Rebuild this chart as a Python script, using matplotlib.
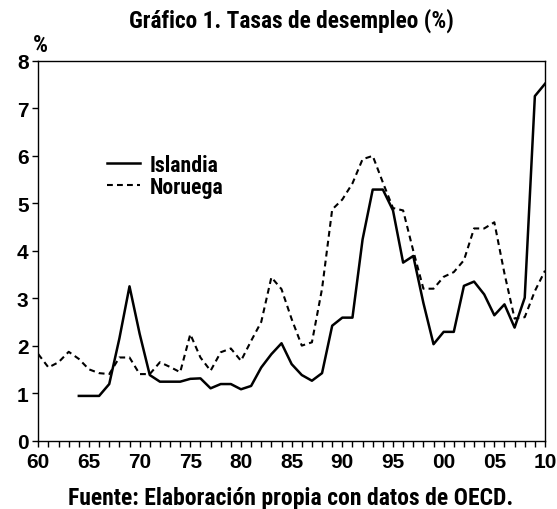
import matplotlib
matplotlib.use("Agg")
import matplotlib.pyplot as plt
from matplotlib import font_manager
from matplotlib.ticker import MultipleLocator, FuncFormatter

years_iceland = list(range(1964, 2011))
iceland = [0.94, 0.94, 0.94, 1.19, 2.15, 3.25, 2.25, 1.38, 1.24, 1.24,
           1.24, 1.30, 1.31, 1.10, 1.19, 1.19, 1.08, 1.15, 1.54, 1.82,
           2.05, 1.61, 1.38, 1.26, 1.42, 2.42, 2.59, 2.59, 4.24, 5.29,
           5.29, 4.85, 3.75, 3.89, 2.90, 2.03, 2.29, 2.29, 3.26, 3.35,
           3.08, 2.64, 2.87, 2.38, 3.01, 7.26, 7.52]

years_norway = list(range(1960, 2011))
norway = [1.82, 1.54, 1.65, 1.87, 1.72, 1.50, 1.42, 1.40, 1.75, 1.75,
          1.40, 1.40, 1.65, 1.55, 1.44, 2.24, 1.75, 1.47, 1.86, 1.94,
          1.68, 2.10, 2.50, 3.44, 3.19, 2.56, 2.00, 2.07, 3.20, 4.87,
          5.08, 5.42, 5.93, 6.00, 5.44, 4.90, 4.85, 4.00, 3.20, 3.20,
          3.45, 3.55, 3.80, 4.47, 4.47, 4.60, 3.52, 2.57, 2.60, 3.15,
          3.58]

title = "Gráfico 1. Tasas de desempleo (%)"
footer = "Fuente: Elaboración propia con datos de OECD."
labels = ["Islandia", "Noruega"]

# pick a condensed font if one is installed
available = {f.name for f in font_manager.fontManager.ttflist}
condensed_dejavu = any(f.name == "DejaVu Sans" and str(f.stretch) in ("condensed", "semi-condensed", "500", "600")
                       and f.weight in ("bold", 700) for f in font_manager.fontManager.ttflist)
narrow_font = None
narrow_stretch = "normal"
for cand in ["Liberation Sans Narrow", "Arial Narrow", "Roboto Condensed", "Open Sans Condensed",
             "Noto Sans Condensed", "DejaVu Sans Condensed"]:
    if cand in available:
        narrow_font = cand
        break
if narrow_font is None and condensed_dejavu:
    narrow_font = "DejaVu Sans"
    narrow_stretch = "condensed"

if narrow_font is not None:
    txt_kw = dict(family=[narrow_font, "DejaVu Sans"], fontweight="bold", fontstretch=narrow_stretch)
    title_size, footer_size, legend_size, pct_size = 16.8, 17.0, 15.7, 17
else:
    txt_kw = dict(family=["Liberation Sans", "DejaVu Sans"], fontweight="bold")
    title_size, footer_size, legend_size, pct_size = 14.0, 14.8, 13.8, 14

fig = plt.figure(figsize=(5.57, 5.10), dpi=100)
ax = fig.add_axes([38.3 / 557, 1 - 441.5 / 510, (545 - 38.3) / 557, (441.5 - 62) / 510])

ax.plot(years_iceland, iceland, color="black", lw=1.8, label=labels[0])
ax.plot(years_norway, norway, color="black", lw=1.5, dashes=(2.8, 2.0), label=labels[1])

ax.set_xlim(1960, 2010)
ax.set_ylim(0, 8)
ax.xaxis.set_major_locator(MultipleLocator(5))
ax.xaxis.set_minor_locator(MultipleLocator(1))
ax.yaxis.set_major_locator(MultipleLocator(1))
ax.xaxis.set_major_formatter(FuncFormatter(lambda v, p: "%02d" % (int(round(v)) % 100)))
ax.tick_params(axis="x", which="both", direction="out", length=4, width=1, pad=4)
ax.tick_params(axis="y", which="both", direction="out", length=4, width=1, pad=3)
for lab in ax.get_xticklabels() + ax.get_yticklabels():
    lab.set_family(["Liberation Sans", "DejaVu Sans"])
    lab.set_fontweight("bold")
    lab.set_fontsize(15)
for s in ax.spines.values():
    s.set_linewidth(1.0)

prop = font_manager.FontProperties(family=txt_kw["family"], weight="bold",
                                   stretch=txt_kw.get("fontstretch", "normal"), size=legend_size)
leg = ax.legend(loc="upper left", bbox_to_anchor=(0.1356, 0.755), frameon=False,
                handlelength=1.5, handletextpad=0.45, labelspacing=0.0, prop=prop,
                borderaxespad=0.0, borderpad=0.0)

fig.text(291 / 557, 1 - 20.5 / 510, title, ha="center", va="center", fontsize=title_size, **txt_kw)
fig.text(291 / 557, 1 - 499 / 510, footer, ha="center", va="center", fontsize=footer_size, **txt_kw)
fig.text(40 / 557, 1 - 46 / 510, "%", ha="center", va="center", fontsize=pct_size, **txt_kw)

fig.savefig("out.png", dpi=100)
